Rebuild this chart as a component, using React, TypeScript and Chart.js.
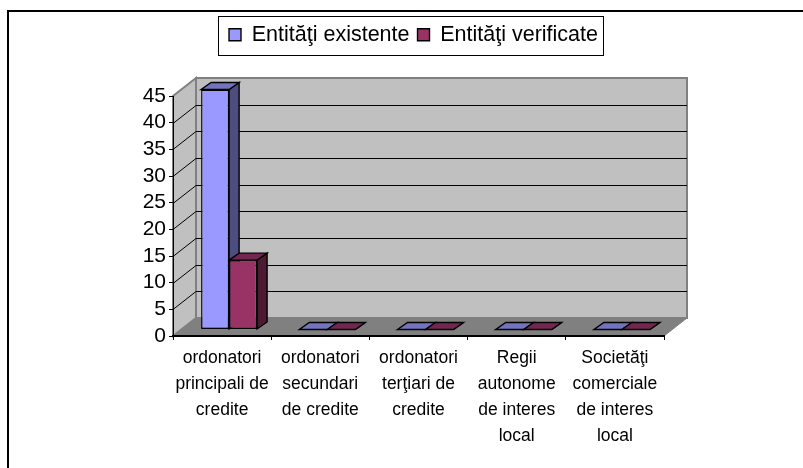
import React, { useEffect, useRef } from "react";
import { Chart, registerables } from "chart.js";

Chart.register(...registerables);

const categories = [
  ["ordonatori", "principali de", "credite"],
  ["ordonatori", "secundari", "de credite"],
  ["ordonatori", "terţiari de", "credite"],
  ["Regii", "autonome", "de interes", "local"],
  ["Societăţi", "comerciale", "de interes", "local"],
];
const existente = [45, 0, 0, 0, 0];
const verificate = [13, 0, 0, 0, 0];
const seriesNames = ["Entităţi existente", "Entităţi verificate"];
const fronts = ["#9999FF", "#993366"];
const tops = ["#7373BF", "#732650"];
const sides = ["#4D4D80", "#4D1A33"];

const FONT = "'Liberation Sans', Arial, sans-serif";
const WALL = { dx: 23, dy: -18 };
const SHIFT = { dx: 7, dy: -6.5 };
const BAR = { dx: 10, dy: -7 };

const poly = (ctx: CanvasRenderingContext2D, pts: number[][], fill: string, stroke: string, lw: number) => {
  ctx.beginPath();
  pts.forEach((p, i) => (i ? ctx.lineTo(p[0], p[1]) : ctx.moveTo(p[0], p[1])));
  ctx.closePath();
  ctx.fillStyle = fill;
  ctx.fill();
  ctx.strokeStyle = stroke;
  ctx.lineWidth = lw;
  ctx.lineJoin = "miter";
  ctx.stroke();
};

const threeD = {
  id: "threeD",
  afterLayout(chart: any) {
    const l = chart.legend;
    if (l) {
      const h = l.bottom - l.top;
      l.left = 116;
      l.right = 711;
      l.top = 16;
      l.bottom = 16 + h;
    }
  },
  beforeDraw(chart: any) {
    const { ctx, chartArea: a, scales } = chart;
    const y = scales.y;
    const { dx, dy } = WALL;
    ctx.save();
    ctx.fillStyle = "#FFFFFF";
    ctx.fillRect(0, 0, chart.width, chart.height);
    ctx.fillStyle = "#000000";
    ctx.fillRect(7, 10, chart.width - 7, 2);
    ctx.fillRect(7, 10, 2, chart.height - 10);
    // back wall
    poly(ctx, [[a.left + dx, a.top + dy], [a.right + dx, a.top + dy], [a.right + dx, a.bottom + dy], [a.left + dx, a.bottom + dy]], "#C0C0C0", "#808080", 2);
    // side wall
    poly(ctx, [[a.left, a.top], [a.left + dx, a.top + dy], [a.left + dx, a.bottom + dy], [a.left, a.bottom]], "#C0C0C0", "#808080", 2);
    // floor
    poly(ctx, [[a.left, a.bottom], [a.right, a.bottom], [a.right + dx, a.bottom + dy], [a.left + dx, a.bottom + dy]], "#808080", "#808080", 1);
    // grid
    ctx.strokeStyle = "#000000";
    ctx.lineWidth = 1;
    y.ticks.forEach((t: any) => {
      if (t.value === y.min || t.value === y.max) return;
      const py = Math.round(y.getPixelForValue(t.value)) + 0.5;
      ctx.beginPath();
      ctx.moveTo(a.left, py);
      ctx.lineTo(a.left + dx, py + dy);
      ctx.lineTo(a.right + dx, py + dy);
      ctx.stroke();
    });
    ctx.restore();
  },
  beforeDatasetsDraw(chart: any) {
    const { ctx } = chart;
    ctx.save();
    ctx.translate(SHIFT.dx, SHIFT.dy);
    chart.data.datasets.forEach((_: any, i: number) => {
      chart.getDatasetMeta(i).data.forEach((b: any) => {
        const p = b.getProps(["x", "y", "base", "width"], true);
        const l = p.x - p.width / 2;
        const r = p.x + p.width / 2;
        const t = p.y;
        const bt = p.base;
        const { dx, dy } = BAR;
        poly(ctx, [[r, t], [r + dx, t + dy], [r + dx, bt + dy], [r, bt]], sides[i], "#000000", 1.4);
        poly(ctx, [[l, t], [r, t], [r + dx, t + dy], [l + dx, t + dy]], tops[i], "#000000", 1.4);
      });
    });
  },
  afterDatasetsDraw(chart: any) {
    chart.ctx.restore();
  },
  afterDraw(chart: any) {
    const { ctx } = chart;
    ctx.save();
    ctx.strokeStyle = "#000000";
    ctx.lineWidth = 1;
    ctx.strokeRect(218.5, 16.5, 385, 39);
    ctx.restore();
  },
};

export default function App() {
  const ref = useRef<HTMLCanvasElement>(null);
  useEffect(() => {
    document.body.style.margin = "0";
    const chart = new Chart(ref.current!, {
      type: "bar",
      data: {
        labels: categories as any,
        datasets: [
          { label: seriesNames[0], data: existente, backgroundColor: fronts[0], borderColor: "#000000", borderWidth: 1.4, borderSkipped: false, clip: false as any },
          { label: seriesNames[1], data: verificate, backgroundColor: fronts[1], borderColor: "#000000", borderWidth: 1.4, borderSkipped: false, clip: false as any },
        ],
      },
      plugins: [threeD],
      options: {
        responsive: false,
        animation: false,
        layout: { padding: { left: 0, right: 139, top: 56.5, bottom: 0 } },
        datasets: { bar: { categoryPercentage: 0.57, barPercentage: 1 } },
        plugins: {
          tooltip: { enabled: false },
          legend: {
            position: "top",
            labels: {
              boxWidth: 12,
              boxHeight: 12,
              padding: 8,
              color: "#000000",
              font: { family: FONT, size: 21.5 },
            },
          },
        },
        scales: {
          x: {
            afterFit: (s: any) => { s.height = 132; },
            border: { display: true, color: "#000000", width: 2 },
            grid: { display: true, drawOnChartArea: false, drawTicks: true, tickLength: 4, color: "#000000", offset: true },
            ticks: {
              autoSkip: false,
              maxRotation: 0,
              minRotation: 0,
              padding: 5,
              color: "#000000",
              font: { family: FONT, size: 17.5, lineHeight: "26px" as any },
            },
          },
          y: {
            min: 0,
            max: 45,
            afterFit: (s: any) => { s.width = 173; },
            border: { display: true, color: "#000000", width: 1 },
            grid: { display: true, drawOnChartArea: false, drawTicks: true, tickLength: 4, color: "#000000" },
            ticks: {
              stepSize: 5,
              autoSkip: false,
              padding: 3,
              color: "#000000",
              font: { family: FONT, size: 21 },
            },
          },
        },
      },
    } as any);
    return () => chart.destroy();
  }, []);
  return <canvas ref={ref} width={803} height={468} style={{ display: "block" }} />;
}
